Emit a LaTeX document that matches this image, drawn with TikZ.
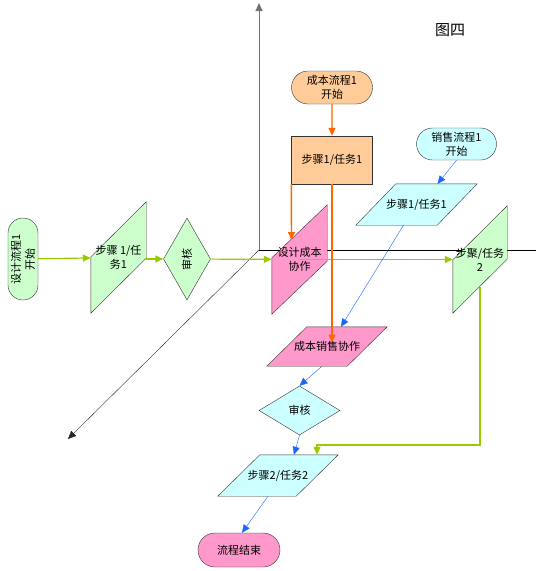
\documentclass[tikz,border=0pt]{standalone}
\usepackage{fontspec}
\setmainfont{Noto Sans CJK SC}
\usetikzlibrary{shapes.geometric,shapes.misc,arrows.meta,backgrounds}
\definecolor{fgreen}{RGB}{204,255,204}
\definecolor{forange}{RGB}{255,204,153}
\definecolor{fcyan}{RGB}{204,255,255}
\definecolor{fpink}{RGB}{255,153,204}
\definecolor{lgreen}{RGB}{153,204,0}
\definecolor{lorange}{RGB}{255,102,0}
\definecolor{lblue}{RGB}{26,102,255}
\begin{document}
\begin{tikzpicture}[x=1pt, y=-1pt,
  every node/.style={font=\fontsize{11}{14}\selectfont, align=center, inner sep=0pt},
  box/.style={draw=black!80, thin},
  term/.style={box, rounded rectangle},
  slot/.style={rectangle},
  check/.style={box, diamond},
  tip/.style={-{Triangle[length=8pt, width=7pt]}},
  garr/.style={tip, line width=1.2pt, lgreen},
  oarr/.style={tip, line width=1.4pt, lorange},
  barr/.style={tip, thin, lblue}
]
\useasboundingbox (0,0) rectangle (540,571);
\node (title) at (450,30) {\fontsize{15}{15}\selectfont 图四};
% design flow
\node[term, fill=fgreen, rotate=90, minimum width=82pt, minimum height=30pt]
  (dstart) at (23,259) {设计流程1\\开始};
\node[slot, minimum width=55pt, minimum height=111pt]
  (dstep) at (118.5,257.5) {步骤 1/任\\务1};
\node[check, fill=fgreen, rotate=90, minimum width=82pt, minimum height=47pt]
  (dcheck) at (187,259) {审核};
\node[slot, minimum width=55pt, minimum height=109pt]
  (ccollab) at (299.5,259.5) {设计成本\\协作};
\node[slot, minimum width=54pt, minimum height=107pt]
  (sstep2) at (480,259.5) {步聚/任务\\2};
% cost flow
\node[term, fill=forange, minimum width=81pt, minimum height=33pt]
  (cstart) at (332,87.5) {成本流程1\\开始};
\node[box, fill=forange, minimum width=81pt, minimum height=48pt]
  (cstep) at (332,160) {步骤1/任务1};
% sales flow
\node[term, fill=fcyan, minimum width=80pt, minimum height=32pt]
  (sstart) at (456.5,144) {销售流程1\\开始};
\node[slot, minimum width=121pt, minimum height=41pt]
  (sstep) at (416.5,204.5) {步骤1/任务1};
% joint part
\node[slot, minimum width=120pt, minimum height=39pt]
  (csale) at (327,346.5) {成本销售协作};
\node[check, fill=fcyan, minimum width=81pt, minimum height=49pt]
  (scheck) at (299.5,410.5) {审核};
\node[slot, minimum width=120pt, minimum height=41pt]
  (step2) at (278,475.5) {步骤2/任务2};
\node[term, fill=fpink, minimum width=82pt, minimum height=34pt]
  (endn) at (239,550) {流程结束};
\begin{scope}[on background layer]
  % axes
  \coordinate (O) at (259,250);
  \draw[tip, line width=1pt, black!55] (O) -- (259,3);
  \draw[thin, black] (O) -- (536,250);
  \draw[tip, thin, black!85] (O) -- (68,439);
  % slanted boxes
  \filldraw[box, fill=fgreen] ([yshift=-55pt]dstep.north west) -- (dstep.south west)
    -- ([yshift=55pt]dstep.south east) -- (dstep.north east) -- cycle;
  \filldraw[box, fill=fpink] ([yshift=-53pt]ccollab.north west) -- (ccollab.south west)
    -- ([yshift=53pt]ccollab.south east) -- (ccollab.north east) -- cycle;
  \filldraw[box, fill=fgreen] ([yshift=-54pt]sstep2.north west) -- (sstep2.south west)
    -- ([yshift=54pt]sstep2.south east) -- (sstep2.north east) -- cycle;
  \filldraw[box, fill=fcyan] ([xshift=40pt]sstep.north west) -- (sstep.north east)
    -- ([xshift=-40pt]sstep.south east) -- (sstep.south west) -- cycle;
  \filldraw[box, fill=fpink] ([xshift=40pt]csale.north west) -- (csale.north east)
    -- ([xshift=-40pt]csale.south east) -- (csale.south west) -- cycle;
  \filldraw[box, fill=fcyan] ([xshift=42pt]step2.north west) -- (step2.north east)
    -- ([xshift=-42pt]step2.south east) -- (step2.south west) -- cycle;
\end{scope}
% green connectors
\draw[garr] (dstart) -- (dstep);
\draw[garr] (dstep.east |- dcheck) -- (dcheck);
\draw[garr] (dcheck) -- (ccollab);
\draw[garr] (ccollab.center) -- (sstep2);
\coordinate (gturn) at (317,445);
\draw[garr] ([yshift=-27pt]sstep2.center) |- (gturn) -- (gturn |- step2.north);
% orange connectors
\coordinate (otip) at (291.5,240);
\draw[oarr] (cstart) -- (cstep);
\draw[oarr] (cstep.south west) -- (otip);
\draw[oarr, shorten >=4pt] (cstep.south) -- (cstep.south |- csale.center);
% blue connectors
\draw[barr] (sstart.south) -- ([xshift=21pt]sstep.north);
\draw[barr] ([xshift=-13pt]sstep.south) -- ([xshift=14pt]csale.north);
\draw[barr] ([xshift=-5pt]csale.south) -- (scheck.north);
\draw[barr] (scheck.south) -- ([xshift=16pt]step2.north);
\draw[barr] ([xshift=-10pt]step2.south) -- ([xshift=3pt]endn.north);
\end{tikzpicture}
\end{document}
